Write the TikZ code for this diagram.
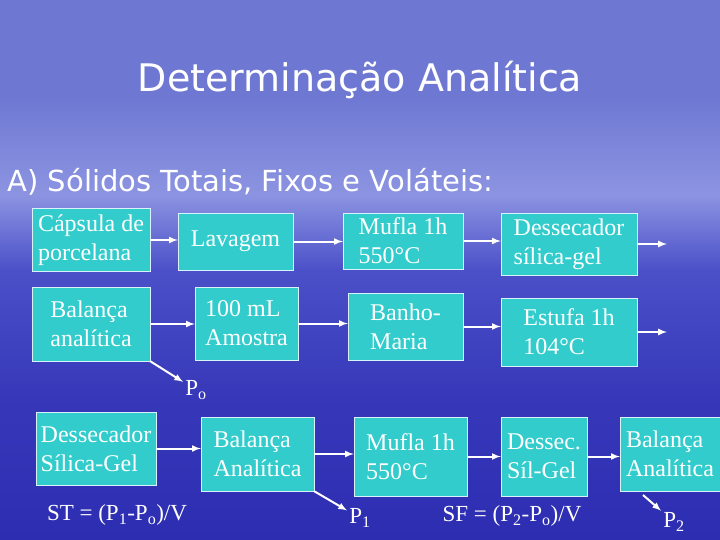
\documentclass[tikz,border=0pt]{standalone}
\usepackage{fontspec}
\setmainfont{Liberation Serif}
\newfontfamily\headfont{DejaVu Sans}
\usetikzlibrary{arrows}
\definecolor{boxcyan}{RGB}{51,204,204}
\definecolor{skytop}{RGB}{110,120,210}
\definecolor{skyhaze}{RGB}{140,148,225}
\definecolor{skymid}{RGB}{75,80,200}
\definecolor{seabot}{RGB}{45,45,178}
\pgfdeclareverticalshading{skysea}{100bp}{color(0bp)=(seabot); color(25bp)=(seabot);
  color(38bp)=(seabot!70!skymid); color(50bp)=(skymid); color(57bp)=(skyhaze);
  color(66bp)=(skytop); color(100bp)=(skytop)}

\begin{document}
\begin{tikzpicture}[x=1pt, y=-1pt, >=latex,
    box/.style={draw=white!85!cyan, fill=boxcyan, text=white, align=left,
      inner sep=2pt, font=\fontsize{24}{29}\selectfont},
    arr/.style={->, draw=white, line width=2pt},
    lbl/.style={text=white, inner sep=2pt, font=\fontsize{23}{28}\selectfont}]
  \useasboundingbox (0,0) rectangle (720,540);
  \shade[shading=skysea] (0,0) rectangle (720,540);
  \node[text=white, font=\headfont\fontsize{38}{42}\selectfont] (title) at (360,80) {Determinação Analítica};
  \node[text=white, anchor=west, font=\headfont\fontsize{29}{33}\selectfont] (sub) at (4,182) {A) Sólidos Totais, Fixos e Voláteis:};
  % first row
  \node[box, minimum width=118pt, minimum height=63pt] (cap) at (91,240) {Cápsula de\\porcelana};
  \node[box, minimum width=115pt, minimum height=57pt] (lav) at (235.5,241.5) {Lavagem};
  \node[box, minimum width=120pt, minimum height=56pt] (muf) at (403,241) {Mufla 1h\\550°C};
  \node[box, minimum width=136pt, minimum height=62pt] (des) at (569,244) {Dessecador\\sílica-gel};
  \coordinate (desout) at (667,244);
  % second row
  \node[box, minimum width=118pt, minimum height=74pt] (bal) at (91,324) {Balança\\analítica};
  \node[box, minimum width=103pt, minimum height=73pt] (amo) at (246.5,323.5) {100 mL\\Amostra};
  \node[box, minimum width=115pt, minimum height=67pt] (ban) at (405.5,326.5) {Banho-\\Maria};
  \node[box, minimum width=136pt, minimum height=68pt] (est) at (569,332) {Estufa 1h\\104°C};
  \coordinate (estout) at (667,332);
  \node[lbl] (po) at (196,390) {P\textsubscript{o}};
  % third row
  \node[box, minimum width=120pt, minimum height=73pt] (ds) at (96,448.5) {Dessecador\\Sílica-Gel};
  \node[box, minimum width=113pt, minimum height=74pt] (ba) at (257.5,454) {Balança\\Analítica};
  \node[box, minimum width=113pt, minimum height=79pt] (mu) at (410.5,456.5) {Mufla 1h\\550°C};
  \node[box, minimum width=86pt, minimum height=79pt] (dsc) at (544,456.5) {Dessec.\\Síl-Gel};
  \node[box, minimum width=100pt, minimum height=74pt] (bb) at (670,454) {Balança\\Analítica};
  \node[lbl] (pa) at (360,518) {P\textsubscript{1}};
  \node[lbl] (pb) at (674,522) {P\textsubscript{2}};
  \coordinate (bbout) at (643,495);
  \node[lbl] (st) at (117,515) {ST = (P\textsubscript{1}-P\textsubscript{o})/V};
  \node[lbl] (sf) at (512,516) {SF = (P\textsubscript{2}-P\textsubscript{o})/V};
  % arrows
  \draw[arr] (cap.east) -- (cap.east -| lav.west);
  \draw[arr] (lav.east) -- (lav.east -| muf.west);
  \draw[arr] (muf.east) -- (muf.east -| des.west);
  \draw[arr] (des) -- (desout);
  \draw[arr] (bal) -- (bal -| amo.west);
  \draw[arr] (amo.east) -- (amo.east -| ban.west);
  \draw[arr] (ban.east) -- (ban.east -| est.west);
  \draw[arr] (est) -- (estout);
  \draw[arr] (bal.south east) -- (po);
  \draw[arr] (ds.east) -- (ds.east -| ba.west);
  \draw[arr] (ba.east) -- (ba.east -| mu.west);
  \draw[arr] (mu.east) -- (mu.east -| dsc.west);
  \draw[arr] (dsc.east) -- (dsc.east -| bb.west);
  \draw[arr] (ba.south east) -- (pa);
  \draw[arr] (bbout) -- (pb);
\end{tikzpicture}
\end{document}
